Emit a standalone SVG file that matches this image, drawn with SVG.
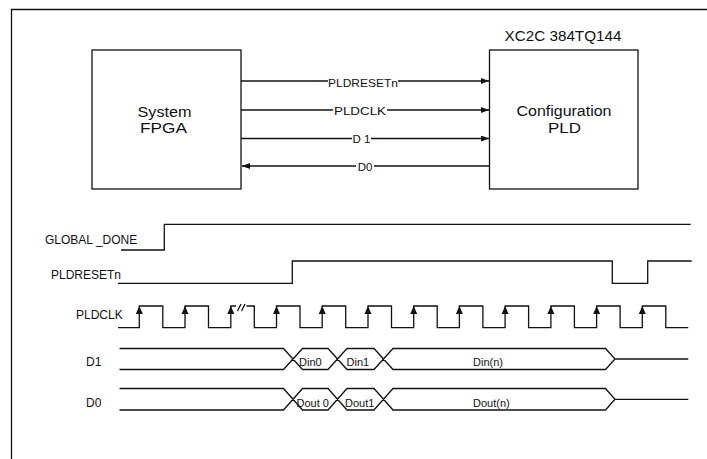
<svg xmlns="http://www.w3.org/2000/svg" width="707" height="459" viewBox="0 0 707 459">
<style>
text{font-family:"Liberation Sans",Arial,sans-serif;fill:#111}
.ln{fill:none;stroke:#111;stroke-width:1.3}
.box{fill:#fff;stroke:#111;stroke-width:1.3}
.lbl{font-size:11.5px}
.sig{font-size:12px}
.bus{font-size:11px}
.big{font-size:14px}
.bg{fill:#fff}
</style>
<defs>
<marker id="ah" viewBox="0 0 8 6" refX="8" refY="3" markerWidth="8" markerHeight="6" markerUnits="userSpaceOnUse" orient="auto"><path d="M0,0 L8,3 L0,6 Z" fill="#111"/></marker>
<path id="ck" d="M0,0 L3.5,8 L-3.5,8 Z" fill="#111"/>
</defs>
<rect width="707" height="459" fill="#fff"/>
<path class="ln" d="M11.5,459 V9.5 H707"/>

<g id="fpga">
<rect class="box" x="92" y="50" width="149" height="139"/>
<text class="big" x="164.5" y="117" text-anchor="middle" textLength="54" lengthAdjust="spacingAndGlyphs">System</text>
<text class="big" x="163.5" y="133" text-anchor="middle" textLength="47" lengthAdjust="spacingAndGlyphs">FPGA</text>
</g>

<g id="pld">
<text class="big" x="563" y="41" text-anchor="middle" textLength="117" lengthAdjust="spacingAndGlyphs">XC2C 384TQ144</text>
<rect class="box" x="489.5" y="50" width="148.5" height="139"/>
<text class="big" x="564" y="116" text-anchor="middle" textLength="95" lengthAdjust="spacingAndGlyphs">Configuration</text>
<text class="big" x="564.5" y="133" text-anchor="middle" textLength="33" lengthAdjust="spacingAndGlyphs">PLD</text>
</g>

<g id="connectors">
<line class="ln" x1="241" y1="81" x2="489" y2="81" marker-end="url(#ah)"/>
<line class="ln" x1="241" y1="110" x2="489" y2="110" marker-end="url(#ah)"/>
<line class="ln" x1="241" y1="138.5" x2="489" y2="138.5" marker-end="url(#ah)"/>
<line class="ln" x1="489.5" y1="166" x2="242" y2="166" marker-end="url(#ah)"/>
<rect class="bg" x="328" y="78" width="70" height="10"/>
<text class="lbl" x="363" y="86.5" text-anchor="middle" textLength="70" lengthAdjust="spacingAndGlyphs">PLDRESETn</text>
<rect class="bg" x="333" y="107" width="54" height="10"/>
<text class="lbl" x="360" y="115" text-anchor="middle" textLength="52" lengthAdjust="spacingAndGlyphs">PLDCLK</text>
<rect class="bg" x="352" y="135" width="19" height="10"/>
<text class="lbl" x="361.5" y="143" text-anchor="middle">D 1</text>
<rect class="bg" x="356" y="163" width="18" height="10"/>
<text class="lbl" x="365" y="171" text-anchor="middle">D0</text>
</g>

<g id="global_done">
<text class="sig" x="45" y="244">GLOBAL _DONE</text>
<path class="ln" d="M121,250 H164.3 V224.3 H690.7"/>
</g>

<g id="pldresetn">
<text class="sig" x="51" y="279">PLDRESETn</text>
<path class="ln" d="M118,283.3 H292.3 V261 H612.3 V283.3 H647.7 V261 H691.7"/>
</g>

<g id="pldclk">
<text class="sig" x="76" y="319">PLDCLK</text>
<path class="ln" d="M118,327.7 H139.3 V306 H162.8 V327.7 H185 V306 H208.5 V327.7 H230.8 V306 H236 M246.5,306 H254.3 V327.7 H276.5 V306 H300 V327.7 H322.2 V306 H345.7 V327.7 H368 V306 H391.5 V327.7 H413.7 V306 H437.2 V327.7 H459.4 V306 H482.9 V327.7 H505.1 V306 H528.6 V327.7 H550.9 V306 H574.4 V327.7 H596.6 V306 H620.1 V327.7 H642.3 V306 H665.8 V327.7 H688.3"/>
<path class="ln" d="M237.5,311 L241,304 M241.5,311 L245,304"/>
<use href="#ck" x="139.3" y="306"/>
<use href="#ck" x="185" y="306"/>
<use href="#ck" x="230.8" y="306"/>
<use href="#ck" x="276.5" y="306"/>
<use href="#ck" x="322.2" y="306"/>
<use href="#ck" x="368" y="306"/>
<use href="#ck" x="413.7" y="306"/>
<use href="#ck" x="459.4" y="306"/>
<use href="#ck" x="505.1" y="306"/>
<use href="#ck" x="550.9" y="306"/>
<use href="#ck" x="596.6" y="306"/>
<use href="#ck" x="642.3" y="306"/>
</g>

<g id="d1">
<text class="sig" x="86" y="365.5">D1</text>
<path class="ln" d="M119.5,348.5 H283.5 L302.5,369.5 H328 L347,348.5 H374 L393,369.5 H605.5 L615,359 L605.5,348.5 H393 L374,369.5 H347 L328,348.5 H302.5 L283.5,369.5 H119.5 M615,359 H688.3"/>
<text class="bus" x="299" y="365.5">Din0</text>
<text class="bus" x="346.5" y="365.5">Din1</text>
<text class="bus" x="473" y="366">Din(n)</text>
</g>

<g id="d0">
<text class="sig" x="86" y="406.5">D0</text>
<path class="ln" d="M119.5,388.5 H283.5 L302.5,410 H328 L347,388.5 H374 L393,410 H605.5 L615,399.3 L605.5,388.5 H393 L374,410 H347 L328,388.5 H302.5 L283.5,410 H119.5 M615,399.3 H688.3"/>
<text class="bus" x="296.5" y="406.5">Dout 0</text>
<text class="bus" x="345" y="406.5">Dout1</text>
<text class="bus" x="473" y="407">Dout(n)</text>
</g>
</svg>
